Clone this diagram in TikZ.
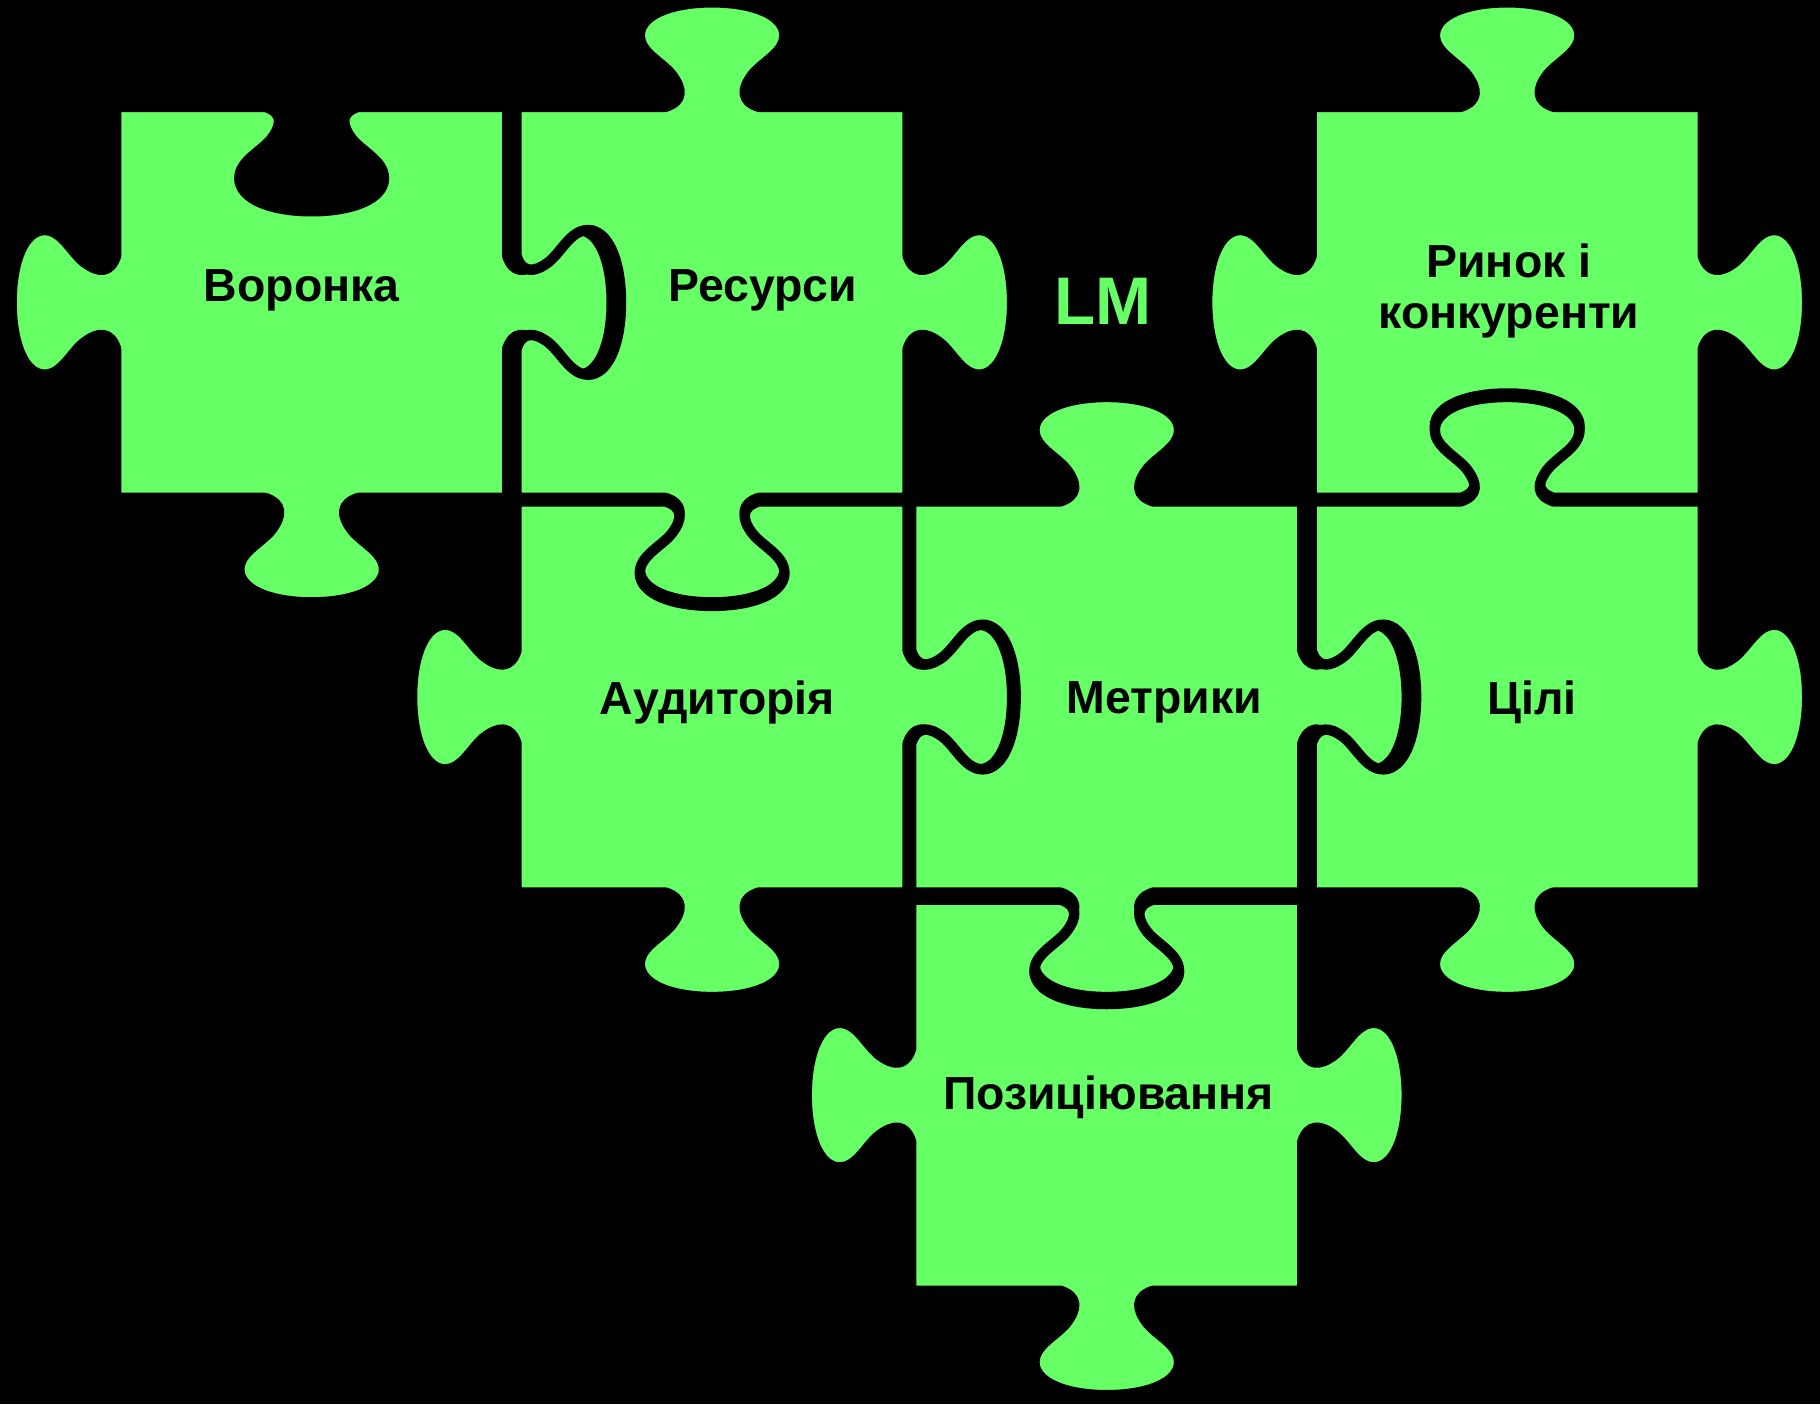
\documentclass[tikz,border=0pt]{standalone}
\usepackage{fontspec}
\setmainfont{Liberation Sans}
\definecolor{pgreen}{HTML}{66FF66}
\def\s{337}
\def\c{168.5}
\newcommand\Tab[1]{-- #1{\c-40}{0} .. controls #1{\c-25}{5} and #1{\c-25}{15} .. #1{\c-35}{28} .. controls #1{\c-45}{40} and #1{\c-65}{48} .. #1{\c-62}{65} .. controls #1{\c-58}{82} and #1{\c-30}{90} .. #1{\c}{90} .. controls #1{\c+30}{90} and #1{\c+58}{82} .. #1{\c+62}{65} .. controls #1{\c+65}{48} and #1{\c+45}{40} .. #1{\c+35}{28} .. controls #1{\c+25}{15} and #1{\c+25}{5} .. #1{\c+40}{0}}
\newcommand\PT[2]{({\px+#1},{\py-(\tT)*(#2)})}
\newcommand\PR[2]{({\px+\s+(\tR)*(#2)},{\py+#1})}
\newcommand\PB[2]{({\px+\s-(#1)},{\py+\s+(\tB)*(#2)})}
\newcommand\PL[2]{({\px-(\tL)*(#2)},{\py+\s-(#1)})}
\newcommand\piece[6]{\def\px{#1}\def\py{#2}\def\tT{#3}\def\tR{#4}\def\tB{#5}\def\tL{#6}%
 \path[piece] ({\px},{\py}) \Tab\PT -- ({\px+\s},{\py}) \Tab\PR -- ({\px+\s},{\py+\s}) \Tab\PB -- ({\px},{\py+\s}) \Tab\PL -- cycle;}
\begin{document}
\begin{tikzpicture}[x=1pt,y=-1pt,
  piece/.style={fill=pgreen,draw=black,line width=9pt,line join=round},
  lbl/.style={font=\fontsize{40}{44}\selectfont\bfseries,text=black,align=center}]
\fill[black] (0,0) rectangle (1568,1210);
\useasboundingbox (0,0) rectangle (1568,1210);
\piece{100}{92}{-1}{1}{1}{1}
\piece{445}{92}{1}{1}{1}{-1}
\piece{1130}{92}{1}{1}{-1}{1}
\piece{445}{432}{-1}{1}{1}{1}
\piece{785}{432}{1}{1}{1}{-1}
\piece{1130}{432}{1}{1}{1}{-1}
\piece{785}{775}{-1}{1}{1}{1}
\node[lbl] (vor) at (260,250) {Воронка};
\node[lbl] (res) at (657,250) {Ресурси};
\node[lbl,font=\fontsize{58}{60}\selectfont\bfseries,text=pgreen] (lm) at (950,260) {LM};
\node[lbl] (ryn) at (1300,251) {Ринок і\\конкуренти};
\node[lbl] (aud) at (618,605) {Аудиторія};
\node[lbl] (met) at (1003,605) {Метрики};
\node[lbl] (cil) at (1320,605) {Цілі};
\node[lbl] (poz) at (955,945) {Позиціювання};
\end{tikzpicture}
\end{document}
